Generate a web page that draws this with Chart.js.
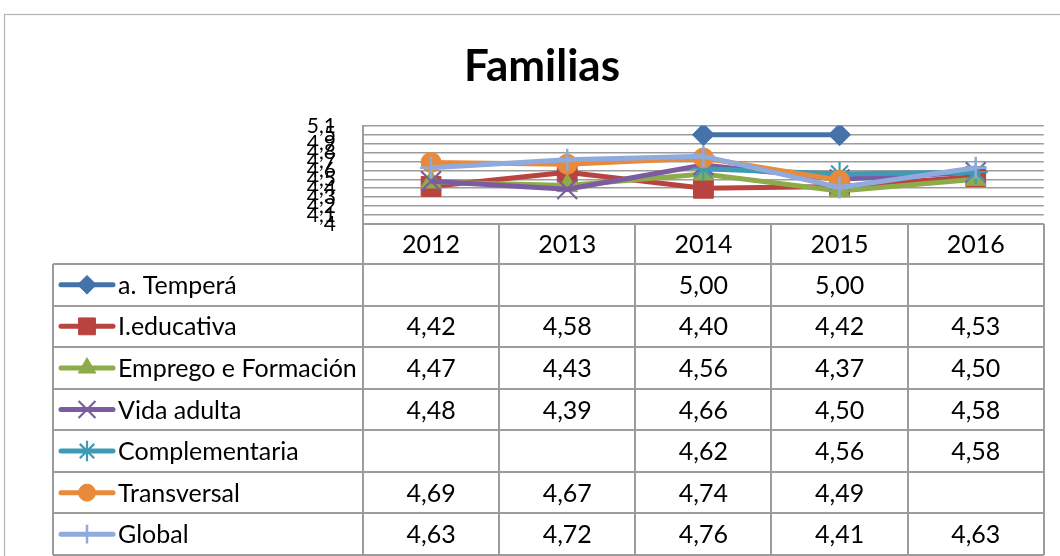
<!DOCTYPE html>
<html>
<head>
<meta charset="utf-8">
<script src="https://cdn.jsdelivr.net/npm/chart.js@4/dist/chart.umd.min.js"></script>
<style>
html,body{margin:0;padding:0;background:#fff;}
#wrap{position:relative;width:1060px;height:556px;}
</style>
</head>
<body>
<div id="wrap"><canvas id="c"></canvas></div>
<script>
const categories = ['2012', '2013', '2014', '2015', '2016'];
const seriesNames = ['a. Temperá', 'I.educativa', 'Emprego e Formación', 'Vida adulta', 'Complementaria', 'Transversal', 'Global'];
const temperaValues = [null, null, 5.00, 5.00, null];
const educativaValues = [4.42, 4.58, 4.40, 4.42, 4.53];
const empregoValues = [4.47, 4.43, 4.56, 4.37, 4.50];
const vidaAdultaValues = [4.48, 4.39, 4.66, 4.50, 4.58];
const complementariaValues = [null, null, 4.62, 4.56, 4.58];
const transversalValues = [4.69, 4.67, 4.74, 4.49, null];
const globalValues = [4.63, 4.72, 4.76, 4.41, 4.63];
const yTickMin = 4.0;
const yTickMax = 5.1;
const yTickStep = 0.1;

const allValues = [temperaValues, educativaValues, empregoValues, vidaAdultaValues, complementariaValues, transversalValues, globalValues];
const colors = ['#4572A9', '#B8433F', '#8EAB4A', '#7B5CA0', '#3F9BB3', '#E88A3B', '#8FAADC'];
const styles = ['rectRot', 'rect', 'triangle', 'crossRot', 'star', 'circle', 'cross'];
const radii = [11, 14, 12, 14, 12, 10, 11];
const borderW = [1, 1, 1, 2.2, 2.2, 1, 2.5];

const FONT = 'Lato, "Noto Sans", sans-serif';
const fmt = v => v.toFixed(2).replace('.', ',');

const datasets = allValues.map((vals, i) => ({
  label: seriesNames[i],
  data: vals,
  borderColor: colors[i],
  backgroundColor: colors[i],
  borderWidth: 5,
  pointStyle: styles[i],
  pointRadius: radii[i],
  pointHoverRadius: radii[i],
  pointBorderWidth: borderW[i],
  pointBackgroundColor: colors[i],
  pointBorderColor: colors[i],
  tension: 0,
  spanGaps: false,
  order: allValues.length - 1 - i
}));

function drawMarker(ctx, style, x, y, r, color, bw) {
  ctx.save();
  ctx.fillStyle = color; ctx.strokeStyle = color; ctx.lineWidth = bw;
  const d = Math.SQRT1_2 * r;
  ctx.beginPath();
  let fill = true;
  switch (style) {
    case 'rectRot':
      ctx.moveTo(x, y - r); ctx.lineTo(x + r, y); ctx.lineTo(x, y + r); ctx.lineTo(x - r, y); ctx.closePath();
      break;
    case 'rect':
      ctx.rect(x - d, y - d, 2 * d, 2 * d);
      break;
    case 'triangle':
      ctx.moveTo(x, y - r); ctx.lineTo(x + 0.866 * r, y + r / 2); ctx.lineTo(x - 0.866 * r, y + r / 2); ctx.closePath();
      break;
    case 'circle':
      ctx.arc(x, y, r, 0, Math.PI * 2);
      break;
    case 'crossRot':
      fill = false;
      ctx.moveTo(x - d, y - d); ctx.lineTo(x + d, y + d);
      ctx.moveTo(x - d, y + d); ctx.lineTo(x + d, y - d);
      break;
    case 'star':
      fill = false;
      ctx.moveTo(x - d, y - d); ctx.lineTo(x + d, y + d);
      ctx.moveTo(x - d, y + d); ctx.lineTo(x + d, y - d);
      ctx.moveTo(x, y - r); ctx.lineTo(x, y + r);
      ctx.moveTo(x - r, y); ctx.lineTo(x + r, y);
      break;
    case 'cross':
      fill = false;
      ctx.moveTo(x, y - r); ctx.lineTo(x, y + r);
      ctx.moveTo(x - r, y); ctx.lineTo(x + r, y);
      break;
  }
  if (fill) ctx.fill();
  ctx.stroke();
  ctx.restore();
}

const tablePlugin = {
  id: 'dataTable',
  beforeDraw(chart) {
    const ctx = chart.ctx;
    ctx.save();
    ctx.strokeStyle = '#b4b4b4';
    ctx.lineWidth = 1.2;
    ctx.strokeRect(4.5, 14.5, 1200, 700);
    ctx.restore();
  },
  afterDraw(chart) {
    const ctx = chart.ctx;
    const x = chart.scales.x;
    const area = chart.chartArea;
    const n = categories.length;
    const colW = (area.right - area.left) / n;
    const headerTop = area.bottom;
    const headerBottom = 264;
    const tableBottom = 555;
    const rowH = (tableBottom - headerBottom) / seriesNames.length;
    const legLeft = 53;

    ctx.save();
    ctx.strokeStyle = '#9c9c9c';
    ctx.lineWidth = 2;
    for (let i = 0; i <= n; i++) {
      const xx = Math.round(area.left + i * colW);
      ctx.beginPath(); ctx.moveTo(xx, headerTop); ctx.lineTo(xx, tableBottom); ctx.stroke();
    }
    ctx.beginPath(); ctx.moveTo(legLeft, headerBottom); ctx.lineTo(legLeft, tableBottom); ctx.stroke();
    ctx.beginPath(); ctx.moveTo(area.left, headerTop); ctx.lineTo(area.right, headerTop); ctx.stroke();
    for (let r = 0; r <= seriesNames.length; r++) {
      const yy = Math.round(headerBottom + r * rowH);
      ctx.beginPath(); ctx.moveTo(legLeft, yy); ctx.lineTo(area.right, yy); ctx.stroke();
    }

    ctx.fillStyle = '#000';
    ctx.font = '25px ' + FONT;
    ctx.textBaseline = 'middle';
    ctx.textAlign = 'center';
    categories.forEach((c, i) => {
      ctx.fillText(c, x.getPixelForValue(i), (headerTop + headerBottom) / 2 + 1);
    });
    allValues.forEach((vals, r) => {
      const cy = headerBottom + (r + 0.5) * rowH + 1;
      vals.forEach((v, i) => {
        if (v !== null && v !== undefined) {
          ctx.fillText(fmt(v), x.getPixelForValue(i), cy);
        }
      });
    });
    ctx.textAlign = 'left';
    seriesNames.forEach((name, r) => {
      const cy = headerBottom + (r + 0.5) * rowH;
      ctx.save();
      ctx.strokeStyle = colors[r];
      ctx.lineWidth = 5;
      ctx.lineCap = 'round';
      ctx.beginPath(); ctx.moveTo(61, cy); ctx.lineTo(113, cy); ctx.stroke();
      ctx.restore();
      drawMarker(ctx, styles[r], 87, cy, radii[r] * 0.85, colors[r], borderW[r]);
      ctx.fillStyle = '#000';
      ctx.fillText(name, 118, cy + 1);
    });
    ctx.restore();
  }
};

new Chart(document.getElementById('c'), {
  type: 'line',
  data: { labels: categories, datasets },
  plugins: [tablePlugin],
  options: {
    responsive: true,
    maintainAspectRatio: false,
    animation: false,
    layout: { padding: { left: 38, right: 14, top: 0, bottom: 0 } },
    plugins: {
      legend: { display: false },
      tooltip: { enabled: false },
      title: {
        display: true,
        text: 'Familias',
        color: '#000',
        font: { family: FONT, size: 44, weight: 'bold' },
        padding: { top: 40, bottom: 33 }
      }
    },
    scales: {
      x: {
        offset: true,
        grid: { display: false },
        border: { display: false },
        ticks: { display: false },
        afterFit(s) { s.height = 332; }
      },
      y: {
        min: yTickMin,
        max: yTickMax,
        border: { display: true, color: '#9c9c9c', width: 2 },
        grid: { color: '#9c9c9c', lineWidth: 1.6, drawTicks: false },
        ticks: {
          stepSize: yTickStep,
          maxTicksLimit: 20,
          autoSkip: false,
          padding: 27,
          color: '#000',
          font: { family: FONT, size: 21 },
          callback: v => String(Math.round(v * 10) / 10).replace('.', ',')
        },
        afterFit(s) { s.width = 325; }
      }
    }
  }
});
</script>
</body>
</html>
